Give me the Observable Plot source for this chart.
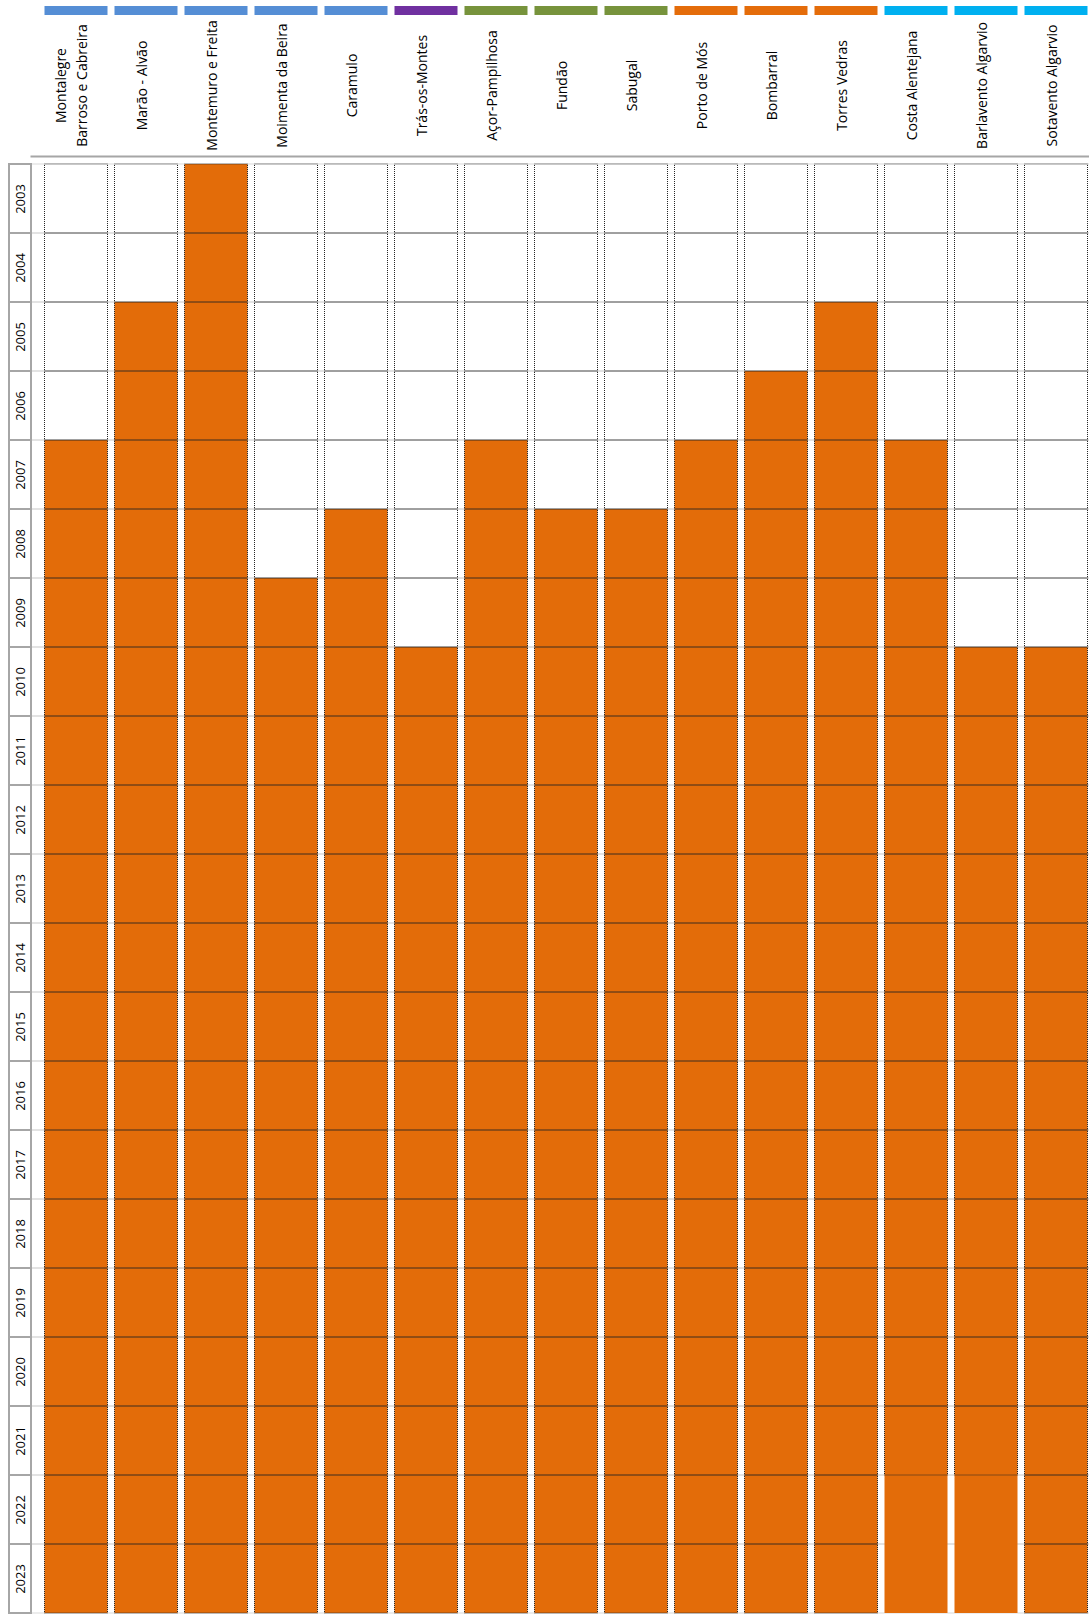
<!DOCTYPE html>
<html><head><meta charset="utf-8">
<script src="https://cdn.jsdelivr.net/npm/d3@7"></script>
<script src="https://cdn.jsdelivr.net/npm/@observablehq/plot@0.6"></script>
<style>
html,body{margin:0;padding:0;background:#fff;overflow:hidden;}
#chart{position:relative;width:1089px;height:1615px;overflow:hidden;font-family:"Open Sans",sans-serif;}
#chart svg{position:absolute;left:0;top:0;}
</style></head><body><div id="chart"></div>
<script>
// ---- data ----
const regions = ["Montalegre Barroso e Cabreira","Marão - Alvão","Montemuro e Freita","Moimenta da Beira","Caramulo","Trás-os-Montes","Açor-Pampilhosa","Fundão","Sabugal","Porto de Mós","Bombarral","Torres Vedras","Costa Alentejana","Barlavento Algarvio","Sotavento Algarvio"];
const regionLabels = ["Montalegre\nBarroso e Cabreira","Marão - Alvão","Montemuro e Freita","Moimenta da Beira","Caramulo","Trás-os-Montes","Açor-Pampilhosa","Fundão","Sabugal","Porto de Mós","Bombarral","Torres Vedras","Costa Alentejana","Barlavento Algarvio","Sotavento Algarvio"];
const regionGroups = ["G1","G1","G1","G1","G1","G2","G3","G3","G3","G4","G4","G4","G5","G5","G5"];
const startYears = [2007,2005,2003,2009,2008,2010,2007,2008,2008,2007,2006,2005,2007,2010,2010];
const years = [2003,2004,2005,2006,2007,2008,2009,2010,2011,2012,2013,2014,2015,2016,2017,2018,2019,2020,2021,2022,2023];

// ---- styles / layout ----
const groupColors = {domain:["G1","G2","G3","G4","G5"], range:["#558ED5","#7030A0","#77933C","#E46C0A","#00B0F0"]};
const ORANGE = "#E36C09";
const W = 1089, H = 1615;
const X0 = 36.5, STEP_X = 70.6, Y0 = 156, STEP_Y = 69.8;
const xRange = [X0, X0 + STEP_X * regions.length];
const yRange = [Y0, Y0 + STEP_Y * years.length];
const svgStyle = {background:"transparent", overflow:"hidden", fontFamily:"Open Sans, sans-serif", fontSize:"13px", color:"#000"};

const headerData = regions.map((r, i) => ({region:r, label:regionLabels[i], group:regionGroups[i]}));
const cellData = [];
regions.forEach((r, i) => years.forEach(y => cellData.push({region:r, year:y, active:y >= startYears[i]})));
const borderless = d => (d.region === "Costa Alentejana" || d.region === "Barlavento Algarvio") && d.year >= 2022;
const multiLine = d => d.label.includes("\n");

const labelOpts = {x:"region", text:"label", rotate:-90, frameAnchor:"bottom", dy:70, fontSize:14, lineHeight:1.5, fill:"#000"};

// header: colored bars + rotated region names
const header = Plot.plot({
  width: W, height: 156, marginTop: 6, marginBottom: 141, marginLeft: 0, marginRight: 0,
  style: svgStyle,
  x: {type:"band", domain: regions, range: xRange, padding: 0, axis: null},
  color: groupColors,
  marks: [
    Plot.cell(headerData, {x:"region", fill:"group", insetLeft:3.5, insetRight:3.5}),
    Plot.text(headerData.filter(d => !multiLine(d)), labelOpts),
    Plot.text(headerData.filter(multiLine), {...labelOpts, dx:10.5})
  ]
});

// year labels column
const yearCol = Plot.plot({
  width: 40, height: H, marginTop: Y0, marginBottom: 0, marginLeft: 9, marginRight: 9,
  style: svgStyle,
  y: {type:"band", domain: years, range: yRange, padding: 0, axis: null},
  marks: [
    Plot.cell(years, {y: d => d, fill:"white", stroke:"#A6A6A6", strokeWidth:2}),
    Plot.text(years, {y: d => d, text: d => String(d), rotate:-90, frameAnchor:"middle", fontSize:13, fill:"#000"})
  ]
});

// grid of cells
const grid = Plot.plot({
  width: W, height: H, marginTop: Y0, marginBottom: 0, marginLeft: 31, marginRight: 0,
  style: svgStyle,
  x: {type:"band", domain: regions, range: xRange, padding: 0, axis: null},
  y: {type:"band", domain: years, range: yRange, padding: 0, axis: null},
  marks: [
    Plot.cell(years, {y: d => d, fill:"none", stroke:"#D9D9D9", strokeWidth:1, insetRight:-3}),
    Plot.cell(cellData, {x:"region", y:"year", fill: d => d.active ? ORANGE : "white", insetLeft:3.5, insetRight:3.5}),
    Plot.cell(cellData.filter(d => !borderless(d)), {x:"region", y:"year", fill:"none", stroke:"#262626", strokeWidth:1, strokeDasharray:"1,1", insetLeft:3.5, insetRight:3.5}),
    Plot.frame({anchor:"top", stroke:"#A6A6A6", strokeWidth:2})
  ]
});

const chart = document.getElementById("chart");
chart.appendChild(header);
chart.appendChild(grid);
chart.appendChild(yearCol);
</script></body></html>
